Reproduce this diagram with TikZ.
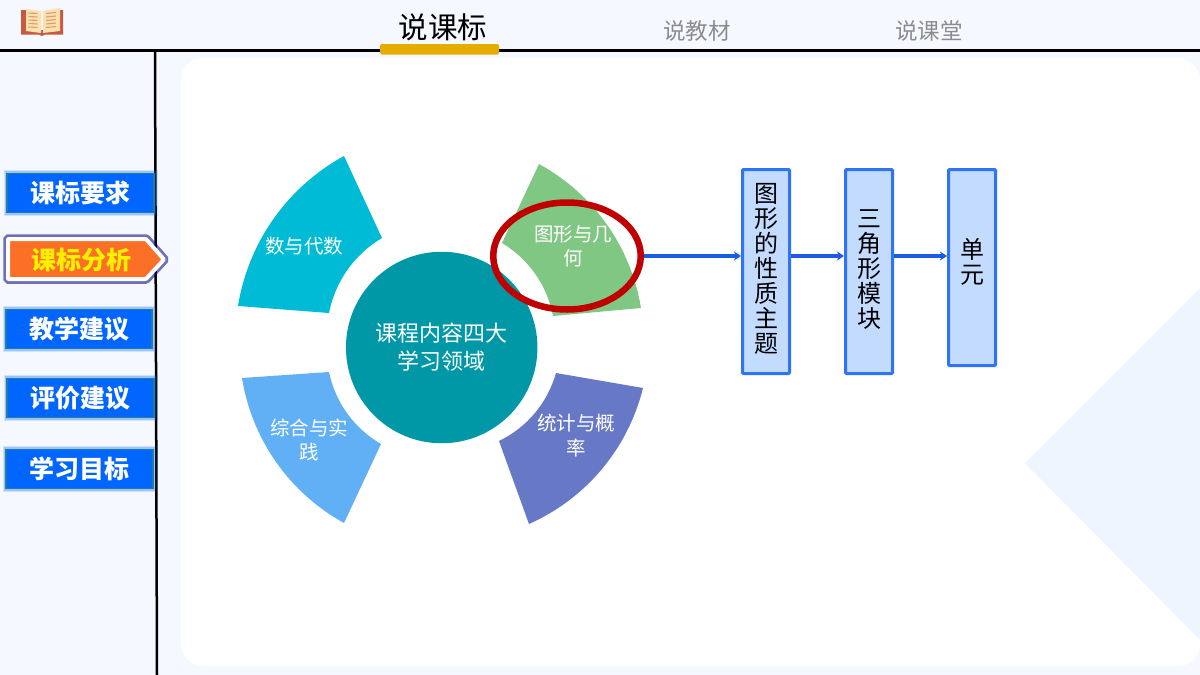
\documentclass[tikz,border=0pt]{standalone}
\usepackage{fontspec}
\setmainfont{Noto Sans CJK SC}
\usepackage{tikz}
\usetikzlibrary{positioning, calc}
\usetikzlibrary{arrows.meta,shapes.geometric}

\definecolor{pagebg}{HTML}{F5F8FF}
\definecolor{cornerbg}{HTML}{EEF5FE}
\definecolor{menublue}{HTML}{0066FF}
\definecolor{menuedge}{HTML}{1F7F9F}
\definecolor{menuorange}{HTML}{FB7026}
\definecolor{menuyellow}{HTML}{FFF000}
\definecolor{goldbar}{HTML}{E6AC00}
\definecolor{secteal}{HTML}{00BBD6}
\definecolor{secgreen}{HTML}{81C784}
\definecolor{secblue}{HTML}{61B0F6}
\definecolor{secpurple}{HTML}{6779C6}
\definecolor{hubteal}{HTML}{0097A7}
\definecolor{ringred}{HTML}{C00000}
\definecolor{boxedge}{HTML}{2F74F5}
\definecolor{boxfill}{HTML}{C2DBFF}
\definecolor{linkblue}{HTML}{1A5CE6}
\definecolor{bookred}{HTML}{C8583F}
\definecolor{bookpage}{HTML}{FCE0B0}
\definecolor{bookline}{HTML}{D9A066}

\tikzset{
  menuglow/.style={preaction={draw=menublue,line width=7pt,opacity=.14},preaction={draw=menublue,line width=4.5pt,opacity=.25}},
  menubox/.style={draw=menuedge,line width=1.2pt,fill=menublue,menuglow,text=white,font=\bfseries\fontsize{25}{25}\selectfont,minimum height=39pt,inner sep=0pt},
  seclabel/.style={text=white,font=\fontsize{19.5}{24.5}\selectfont,align=center,inner sep=0pt},
  chainbox/.style={draw=boxedge,line width=3pt,fill=boxfill,rounded corners=1pt,minimum width=47pt,inner sep=0pt,align=center,font=\fontsize{24}{25}\selectfont},
  tablabel/.style={font=\fontsize{22.5}{23}\selectfont,text=black!45,inner sep=0pt},
  link/.style={-{Stealth[length=7pt,width=9pt]},draw=linkblue,line width=3.2pt,shorten >=0pt}
}

\begin{document}
\begin{tikzpicture}[x=1pt,y=-1pt]
\useasboundingbox (0,0) rectangle (1200,675);
\fill[pagebg] (0,0) rectangle (1200,675);
\fill[white,rounded corners=22pt] (181,58) -- (1200,58) -- (1200,666) -- (181,666) -- cycle;
\fill[cornerbg] (1025,463) -- (1200,288) -- (1200,640) -- cycle;

% frame lines
\draw[line width=3pt] (0,50) -- (1200,50);
\draw[line width=2.5pt] (155,50) -- (157,675);
\fill[goldbar,rounded corners=1.5pt] (380,44) rectangle (499,54.5);

% book
\fill[bookred] (21,10) -- (26,10) -- (26,30) -- (60,30) -- (60,10) -- (63,10) -- (63,34.5) -- (45,34.5) -- (42,36) -- (39,34.5) -- (21,34.5) -- cycle;
\fill[bookpage] (26,9) -- (41,11) -- (41,33) -- (26,31) -- cycle;
\fill[bookpage] (43,11) -- (60,8) -- (60,31) -- (43,33) -- cycle;
\foreach \yy in {13,16.5,20,23.5,27}{
  \draw[bookline,line width=1.1pt] (28.5,\yy) -- (37.5,\yy+.5);
  \draw[bookline,line width=1.1pt] (46,\yy+.5) -- (56,\yy-.5);
}

% tabs
\node[font=\fontsize{29.5}{30}\selectfont,inner sep=0pt] (tabA) at (443,27) {说课标};
\node[tablabel] (tabB) at (697,31) {说教材};
\node[tablabel] (tabC) at (929,31) {说课堂};

% side menu
\node[menubox,minimum width=147pt] (menuA) at (80.5,193) {课标要求};
\draw[white,line width=4pt,fill=menuorange,preaction={draw=blue!50!black,line width=9.5pt,opacity=.55},line join=miter,rounded corners=.8pt] (8,239) -- (146,239) -- (164,259.5) -- (146,279) -- (8,279) -- cycle;
\node[text=menuyellow,font=\bfseries\fontsize{25}{25}\selectfont,inner sep=0pt] (menuB) at (81,260) {课标分析};
\node[menubox,minimum width=146pt] (menuC) at (79,329) {教学建议};
\node[menubox,minimum width=147pt] (menuD) at (80.5,398) {评价建议};
\node[menubox,minimum width=147pt] (menuE) at (79.5,469) {学习目标};

% four sectors
\fill[secteal] (238,306) to[bend left=26,looseness=.9] (344,156) -- (382,238) to[bend right=24,looseness=.9] (329,313) -- cycle;
\fill[secgreen] (539,164) to[bend left=26,looseness=.9] (641,308) -- (553,316) to[bend right=24,looseness=.9] (502,243) -- cycle;
\fill[secblue] (344,523) to[bend left=26,looseness=.9] (242,378) -- (329,372) to[bend right=24,looseness=.9] (381,444) -- cycle;
\fill[secpurple] (643,388) to[bend left=26,looseness=.9] (529,524) -- (499,441) to[bend right=24,looseness=.9] (556,373) -- cycle;

\node[circle,fill=hubteal,minimum size=191.5pt,inner sep=0pt,text=white,align=center,font=\fontsize{22}{28}\selectfont] (hub) at (441.7,347.5) {课程内容四大\\学习领域};
\node[seclabel] (secA) at (304,246) {数与代数};
\node[seclabel] (secB) at (573,246) {图形与几\\何};
\node[seclabel] (secC) at (309,440) {综合与实\\践};
\node[seclabel] (secD) at (576,435.5) {统计与概\\率};

\node[ellipse,draw=ringred,line width=6.5pt,minimum width=147.5pt,minimum height=107pt,inner sep=0pt] (ring) at (567,256) {};

% chain on the right
\node[chainbox,minimum height=204pt] (chainA) at (766,271.5) {图\\形\\的\\性\\质\\主\\题\\[-18pt]};
\node[chainbox,minimum height=204pt] (chainB) at (869,271.5) {三\\角\\形\\模\\块\\[-19pt]};
\node[chainbox,minimum height=196pt] (chainC) at (972,267.5) {单\\元\\[-11pt]};

\draw[link] (ring.east) -- (ring.east -| chainA.west);
\draw[link] (chainA.east |- ring.east) -- (chainB.west |- ring.east);
\draw[link] (chainB.east |- ring.east) -- (chainC.west |- ring.east);
\end{tikzpicture}
\end{document}
